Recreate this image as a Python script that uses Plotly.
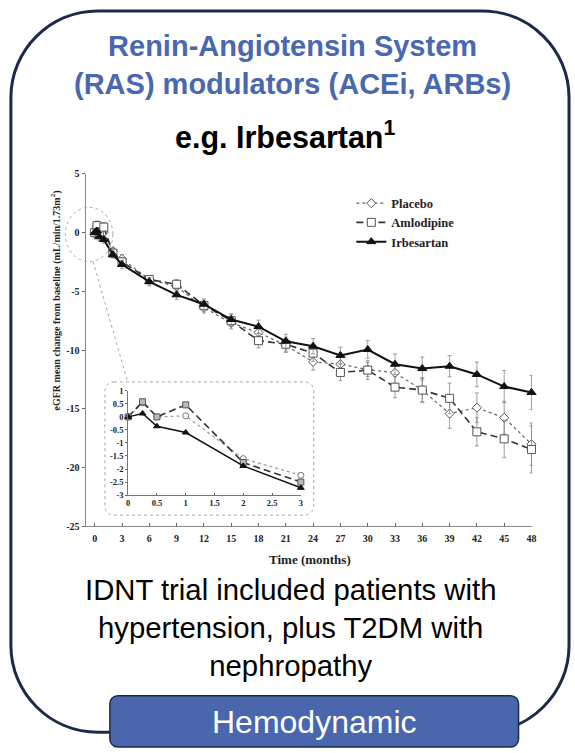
import plotly.graph_objects as go

# ---------------- data ----------------
months = [0, 0.25, 0.5, 1, 2, 3, 6, 9, 12, 15, 18, 21, 24, 27, 30, 33, 36, 39, 42, 45, 48]
placebo = [0, 0.54, 0.0, 0.04, -1.6, -2.24, -4.0, -4.6, -6.4, -7.7, -8.5, -9.6, -11.0, -11.2,
           -11.65, -11.93, -13.4, -15.4, -14.9, -15.75, -18.0]
amlodipine = [0, 0.58, 0.0, 0.46, -1.75, -2.5, -4.0, -4.4, -6.2, -7.5, -9.2, -9.5, -10.26, -11.9,
              -11.7, -13.15, -13.4, -14.1, -16.95, -17.55, -18.45]
irbesartan = [0, 0.13, -0.36, -0.6, -1.88, -2.72, -4.18, -5.3, -6.1, -7.4, -8.0, -9.25, -9.67,
              -10.45, -9.95, -11.2, -11.57, -11.37, -12.07, -13.1, -13.6]
err_placebo = [0.4, 0.4, 0.4, 0.4, 0.35, 0.35, 0.35, 0.4, 0.45, 0.5, 0.55, 0.6, 0.7, 0.8, 0.6,
               0.9, 1.05, 1.25, 1.25, 1.4, 1.8]
err_amlodipine = [0.4, 0.4, 0.4, 0.4, 0.35, 0.35, 0.35, 0.4, 0.45, 0.5, 0.6, 0.6, 0.7, 0.7, 0.8,
                  0.9, 1.0, 1.3, 1.2, 1.6, 2.0]
err_irbesartan = [0.3, 0.3, 0.3, 0.3, 0.3, 0.35, 0.35, 0.4, 0.45, 0.5, 0.55, 0.6, 0.65, 0.7, 0.75,
                  0.88, 0.98, 0.9, 1.05, 1.37, 1.46]
series_names = ["Placebo", "Amlodipine", "Irbesartan"]

inset_count = 6  # first 3 months shown in the inset

x_tick_vals = [0, 3, 6, 9, 12, 15, 18, 21, 24, 27, 30, 33, 36, 39, 42, 45, 48]
x_tick_labels = [str(v) for v in x_tick_vals]
y_tick_vals = [5, 0, -5, -10, -15, -20, -25]
y_tick_labels = ["5", "0", "-5", "-10", "-15", "-20", "-25"]
inset_x_vals = [0, 0.5, 1, 1.5, 2, 2.5, 3]
inset_x_labels = ["0", "0.5", "1", "1.5", "2", "2.5", "3"]
inset_y_vals = [1, 0.5, 0, -0.5, -1, -1.5, -2, -2.5, -3]
inset_y_labels = ["1", "0.5", "0", "-0.5", "-1", "-1.5", "-2", "-2.5", "-3"]

W, H = 575, 753


def px(x):
    return x / W


def py(y):
    return 1 - y / H


def rrect(x0, y0, x1, y1, r):
    k = 0.5523 * r
    def P(x, y):
        return f"{px(x):.5f},{py(y):.5f}"
    s = f"M {P(x0 + r, y0)} L {P(x1 - r, y0)} "
    s += f"C {P(x1 - r + k, y0)} {P(x1, y0 + r - k)} {P(x1, y0 + r)} "
    s += f"L {P(x1, y1 - r)} "
    s += f"C {P(x1, y1 - r + k)} {P(x1 - r + k, y1)} {P(x1 - r, y1)} "
    s += f"L {P(x0 + r, y1)} "
    s += f"C {P(x0 + r - k, y1)} {P(x0, y1 - r + k)} {P(x0, y1 - r)} "
    s += f"L {P(x0, y0 + r)} "
    s += f"C {P(x0, y0 + r - k)} {P(x0 + r - k, y0)} {P(x0 + r, y0)} Z"
    return s


serif = "Liberation Serif"
sans = "Liberation Sans"

fig = go.Figure()

styles = {
    "Placebo": dict(symbol="diamond", size=7, line=dict(color="#666", width=1.2, dash="dot"),
                    mline="#555", fill="white"),
    "Amlodipine": dict(symbol="square", size=8, line=dict(color="#333", width=1.6, dash="7px,4px"),
                       mline="#555", fill="white"),
    "Irbesartan": dict(symbol="triangle-up", size=8, line=dict(color="#111", width=2, dash="solid"),
                       mline="#111", fill="#111"),
}
values = {"Placebo": placebo, "Amlodipine": amlodipine, "Irbesartan": irbesartan}
errors = {"Placebo": err_placebo, "Amlodipine": err_amlodipine, "Irbesartan": err_irbesartan}

for name in series_names:
    st = styles[name]
    fig.add_trace(go.Scatter(
        x=months, y=values[name], name=name, mode="lines+markers",
        line=st["line"],
        marker=dict(symbol=st["symbol"], size=st["size"], color=st["fill"],
                    line=dict(color=st["mline"], width=1)),
        error_y=dict(type="data", array=errors[name], color="#888", thickness=0.8, width=2),
        xaxis="x", yaxis="y", cliponaxis=False,
    ))

inset_styles = {
    "Placebo": dict(symbol="circle", size=6, line=dict(color="#999", width=1.2, dash="dot"),
                    mline="#777", fill="white"),
    "Amlodipine": dict(symbol="square", size=6, line=dict(color="#333", width=1.6, dash="7px,4px"),
                       mline="#555", fill="#bbb"),
    "Irbesartan": dict(symbol="triangle-up", size=6, line=dict(color="#111", width=1.5, dash="solid"),
                       mline="#111", fill="#111"),
}
for name in series_names:
    st = inset_styles[name]
    fig.add_trace(go.Scatter(
        x=months[:inset_count], y=values[name][:inset_count], name=name, mode="lines+markers",
        line=st["line"], showlegend=False,
        marker=dict(symbol=st["symbol"], size=st["size"], color=st["fill"],
                    line=dict(color=st["mline"], width=1)),
        xaxis="x2", yaxis="y2", cliponaxis=False,
    ))

tickfont = dict(family=serif, size=10, color="#222", weight="bold")
inset_tickfont = dict(family=serif, size=8.5, color="#222", weight="bold")

shapes = [
    # outer frame
    dict(type="path", path=rrect(9, 6, 573, 737, 88), xref="paper", yref="paper",
         line=dict(color="#1c2a4a", width=3), fillcolor="rgba(0,0,0,0)", layer="below"),
    # zoom circle
    dict(type="circle", xref="paper", yref="paper", x0=px(64), x1=px(112), y0=py(260), y1=py(205),
         line=dict(color="#aaa", width=1, dash="dot")),
    # connector
    dict(type="line", xref="paper", yref="paper", x0=px(92), y0=py(260), x1=px(127), y1=py(382),
         line=dict(color="#aaa", width=1, dash="dot")),
    # inset box
    dict(type="path", path=rrect(104, 382, 315, 517, 9), xref="paper", yref="paper",
         line=dict(color="#aaa", width=1, dash="dot"), fillcolor="white", layer="below"),
    # button
    dict(type="path", path=rrect(109, 700, 522, 752, 8), xref="paper", yref="paper",
         line=dict(color="#1c2a4a", width=1.5), fillcolor="#4a66ac", layer="above"),
]

annotations = [
    dict(text="<b>Renin-Angiotensin System<br>(RAS) modulators (ACEi, ARBs)</b>",
         x=px(294), y=py(60.5), xref="paper", yref="paper", showarrow=False,
         xanchor="center", yanchor="middle", align="center",
         font=dict(family=sans, size=29, color="#4a68b0")),
    dict(text="<b>e.g. Irbesartan<sup>1</sup></b>",
         x=px(286), y=py(132), xref="paper", yref="paper", showarrow=False,
         xanchor="center", yanchor="middle",
         font=dict(family=sans, size=30.5, color="#000")),
    dict(text="IDNT trial included patients with<br>hypertension, plus T2DM with<br>nephropathy",
         x=px(292), y=py(631), xref="paper", yref="paper", showarrow=False,
         xanchor="center", yanchor="middle", align="center",
         font=dict(family=sans, size=29.3, color="#000")),
    dict(text="Hemodynamic",
         x=px(315.5), y=py(727), xref="paper", yref="paper", showarrow=False,
         xanchor="center", yanchor="middle",
         font=dict(family=sans, size=32, color="white")),
    dict(text="<b>Time (months)</b>",
         x=px(311), y=py(562), xref="paper", yref="paper", showarrow=False,
         xanchor="center", yanchor="middle",
         font=dict(family=serif, size=13, color="#222")),
    dict(text="<b>eGFR mean change from baseline (mL/min/1.73m<sup>2</sup>)</b>",
         x=px(54), y=py(299), xref="paper", yref="paper", showarrow=False,
         xanchor="center", yanchor="middle", textangle=-90,
         font=dict(family=serif, size=10, color="#222")),
]

fig.update_layout(
    width=W, height=H, margin=dict(l=0, r=0, t=0, b=0),
    paper_bgcolor="white", plot_bgcolor="rgba(0,0,0,0)",
    showlegend=True,
    legend=dict(x=px(353), y=py(186), xanchor="left", yanchor="top",
                bgcolor="rgba(0,0,0,0)", itemwidth=30, tracegroupgap=0,
                font=dict(family=serif, size=12.5, color="#222", weight="bold")),
    xaxis=dict(domain=[px(84.5), px(536)], range=[-1, 48.1], tickvals=x_tick_vals,
               ticktext=x_tick_labels, ticks="inside", ticklen=3, tickcolor="#666",
               showline=True, linecolor="#888", linewidth=1, showgrid=False, zeroline=False,
               tickfont=tickfont, ticklabelstandoff=3, anchor="y"),
    yaxis=dict(domain=[py(528.5), py(171)], range=[-25, 5], tickvals=y_tick_vals,
               ticktext=y_tick_labels, ticks="outside", ticklen=3, tickcolor="#666",
               showline=True, linecolor="#888", linewidth=1, showgrid=False, zeroline=False,
               tickfont=tickfont, anchor="x"),
    xaxis2=dict(domain=[px(127.5), px(302)], range=[0, 3], tickvals=inset_x_vals,
                ticktext=inset_x_labels, ticks="inside", ticklen=2, tickcolor="#666",
                showline=True, linecolor="#777", linewidth=1, showgrid=False, zeroline=False,
                tickfont=inset_tickfont, anchor="y2"),
    yaxis2=dict(domain=[py(496.7), py(391)], range=[-3, 1], tickvals=inset_y_vals,
                ticktext=inset_y_labels, ticks="outside", ticklen=2, tickcolor="#666",
                showline=True, linecolor="#777", linewidth=1, showgrid=False, zeroline=False,
                tickfont=inset_tickfont, anchor="x2"),
    shapes=shapes,
    annotations=annotations,
)

fig.write_html("out.html")
